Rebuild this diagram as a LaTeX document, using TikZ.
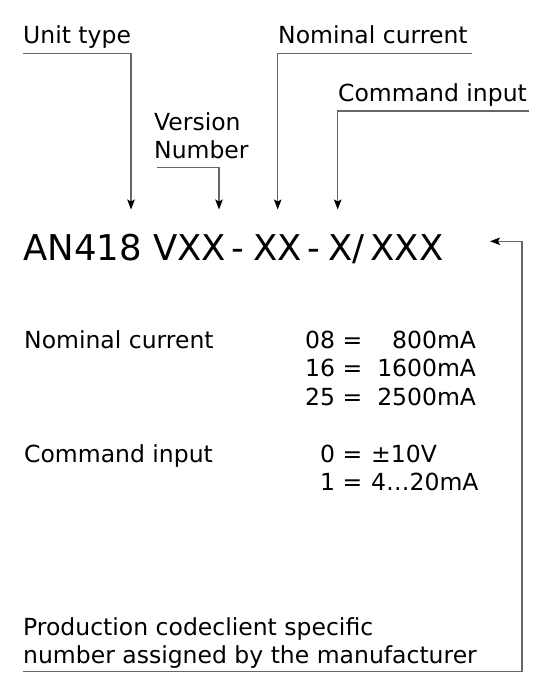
\documentclass[tikz,border=0pt]{standalone}
\usepackage{fontspec}
\setmainfont{DejaVu Sans}
\usetikzlibrary{arrows.meta}
\begin{document}
\begin{tikzpicture}[x=1pt,y=-1pt,
  lbl/.style={anchor=base west,inner sep=0pt,font=\fontsize{23.5}{28.3}\selectfont},
  ttl/.style={anchor=base west,inner sep=0pt,font=\fontsize{35.5}{43}\selectfont},
  conn/.style={draw=black!60,line width=1.1pt,-{Stealth[length=10pt,width=7.5pt,inset=2pt,black]}},
  plain/.style={draw=black!60,line width=1.1pt}]
\useasboundingbox (0,0) rectangle (557,687);
% title
\node[ttl] (title) at (23,260) {AN418 VXX\kern6pt-\kern8.5pt XX\kern5.5pt-\kern8pt X/\kern6pt XXX};
% labels
\node[lbl] (unit) at (23,44) {Unit type};
\node[lbl] (ver) at (154,131) {Version};
\node[lbl] (vnum) at (154,159) {Number};
\node[lbl] (nomtop) at (278,44) {Nominal current};
\node[lbl] (cmdtop) at (338,102) {Command input};
% arrow targets
\coordinate (t1) at (131,209.5);
\coordinate (t2) at (219,209.5);
\coordinate (t3) at (277.7,209.5);
\coordinate (t4) at (337.7,209.5);
\coordinate (u1) at (23,53.3);
\coordinate (u2) at (157,167.7);
\coordinate (u3) at (472,53.3);
\coordinate (u4) at (529,111);
\draw[conn] (u1) -| (t1);
\draw[conn] (u2) -| (t2);
\draw[conn] (u3) -| (t3);
\draw[conn] (u4) -| (t4);
% table
\node[lbl] (nom) at (24,348) {Nominal current};
\node[lbl] (r1) at (305,348) {08 =\kern15pt\phantom{1}800mA};
\node[lbl] (r2) at (305,376.5) {16 =\kern15pt 1600mA};
\node[lbl] (r3) at (305,405) {25 =\kern15pt 2500mA};
\node[lbl] (cmd) at (24,462) {Command input};
\node[lbl] (r4) at (305,462) {\phantom{0}0 =\kern9pt ±10V};
\node[lbl] (r5) at (305,490.5) {\phantom{0}1 =\kern9pt 4…20mA};
% bottom
\node[lbl] (prod1) at (23,635) {Production codeclient specific};
\node[lbl] (prod2) at (23,663) {number assigned by the manufacturer};
\coordinate (b1) at (23,671.5);
\coordinate (b2) at (522,671.5);
\coordinate (tt) at (490,241.3);
\draw[conn] (b1) -- (b2) |- (tt);
\end{tikzpicture}
\end{document}
